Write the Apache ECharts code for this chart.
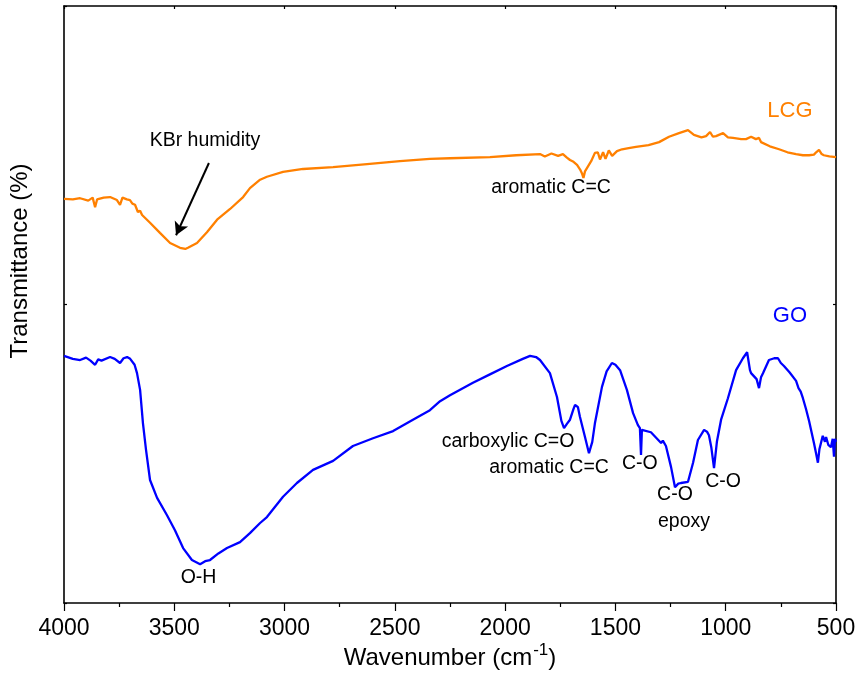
<!DOCTYPE html>
<html>
<head>
<meta charset="utf-8">
<script src="https://cdn.jsdelivr.net/npm/echarts@6/dist/echarts.min.js"></script>
<style>
  html, body { margin: 0; padding: 0; background: #fff; }
  #chart { width: 860px; height: 681px; }
</style>
</head>
<body>
<div id="chart"></div>
<script>
// FTIR spectra: LCG and GO (transmittance in arbitrary offset units)
const lcgWavenumber = [4000,3960,3927,3890,3870,3859,3850,3820,3791,3760,3746,3735,3715,3701,3690,3678,3665,3655,3646,3610,3565,3519,3474,3450,3438,3397,3352,3306,3247,3188,3157,3111,3080,3007,2916,2780,2626,2477,2341,2250,2069,1950,1842,1820,1790,1760,1738,1720,1706,1690,1674,1660,1652,1645,1638,1629,1610,1593,1580,1570,1556,1545,1530,1515,1493,1470,1440,1407,1398,1350,1302,1257,1212,1171,1144,1110,1089,1071,1058,1044,1012,990,967,930,908,885,863,849,840,831,800,758,720,681,650,622,600,590,577,565,555,530,500];
const lcgTransmittance = [67.7,67.6,67.8,67.4,67.9,66.3,67.6,67.9,68.0,67.5,66.7,67.9,67.6,67.5,66.9,66.7,65.5,65.7,65.0,63.7,62.0,60.3,59.5,59.3,59.5,60.3,62.1,64.2,66.0,68.0,69.5,70.9,71.4,72.2,72.7,73.0,73.5,74.0,74.4,74.5,74.7,75.0,75.2,74.8,75.3,74.9,75.2,74.6,74.2,73.9,73.4,72.6,72.0,71.2,72.3,72.5,74.0,75.4,75.5,74.3,75.5,74.4,75.8,74.9,75.7,76.0,76.2,76.4,76.5,76.7,77.2,78.1,78.7,79.2,78.4,78.0,78.2,78.9,78.1,78.2,78.7,78.0,77.9,77.7,77.7,78.1,77.7,77.9,77.2,77.1,76.5,76.0,75.5,75.2,75.0,75.0,75.1,75.5,75.9,75.2,75.0,74.8,74.7];

const goWavenumber = [4000,3960,3927,3900,3880,3859,3845,3830,3791,3770,3746,3730,3714,3700,3692,3680,3669,3655,3642,3628,3610,3578,3533,3497,3460,3420,3383,3360,3338,3300,3261,3202,3157,3111,3080,3007,2944,2871,2780,2690,2599,2508,2418,2341,2295,2250,2146,2069,1992,1920,1887,1860,1842,1797,1765,1745,1733,1720,1706,1690,1683,1670,1661,1638,1620,1605,1593,1561,1540,1516,1500,1479,1448,1420,1398,1389,1384,1380,1375,1339,1293,1285,1271,1248,1230,1215,1203,1171,1148,1126,1098,1085,1076,1065,1053,1040,1021,990,953,922,903,890,885,860,854,849,840,831,804,780,763,750,736,710,681,670,660,650,636,622,600,590,582,575,568,560,550,545,535,523,515,509,505,500];
const goTransmittance = [41.4,40.9,40.7,41.1,40.6,39.9,40.8,40.6,41.2,40.9,40.2,41.0,41.2,40.9,40.7,39.9,38.5,35.7,30.1,25.6,20.6,17.6,14.7,12.2,9.2,7.2,6.5,7.0,7.2,8.3,9.2,10.2,11.7,13.4,14.4,17.8,20.1,22.3,23.8,26.3,27.6,28.8,30.7,32.3,33.8,34.8,36.9,38.3,39.7,40.9,41.4,41.2,40.7,38.5,34.5,30.5,29.3,30.0,30.7,32.5,33.2,32.8,31.2,27.8,25.1,27.0,30.1,36.2,38.8,40.2,39.9,39.0,35.7,31.8,29.8,29.3,24.8,29.0,29.0,28.6,26.8,27.2,26.3,22.8,19.4,20.0,20.1,20.3,23.5,27.3,29.0,28.7,28.1,26.0,22.6,27.0,30.7,34.3,39.0,41.0,42.0,39.0,38.5,37.5,37.2,36.0,37.8,38.5,40.7,41.0,41.0,40.2,39.7,38.6,37.2,36.0,35.4,34.3,32.5,30.5,26.8,25.0,23.5,25.8,26.1,28.0,27.0,27.8,26.5,26.1,27.5,24.5,27.5,27.0];

// Band assignments: [wavenumber, transmittance, text]
const bandLabels = [
  [3361, 77.4, 'KBr humidity'],
  [1792, 69.6, 'aromatic C=C'],
  [3390, 4.2, 'O-H'],
  [1987, 27.0, 'carboxylic C=O'],
  [1801, 22.6, 'aromatic C=C'],
  [1389, 23.3, 'C-O'],
  [1230, 18.1, 'C-O'],
  [1189, 13.7, 'epoxy'],
  [1012, 20.4, 'C-O']
];
// Sample names placed next to their spectra
const sampleLabels = [
  [709, 82.5, 'LCG', '#ff8000'],
  [709, 48.1, 'GO', '#0000ff']
];
// Arrow pointing at the KBr water band: [start, end]
const humidityArrow = [[3343, 73.7], [3492, 61.6]];

const FONT = 'Arial, "Liberation Sans", sans-serif';
const zip = (xs, ys) => xs.map((x, i) => [x, ys[i]]);

const chart = echarts.init(document.getElementById('chart'), null, { renderer: 'canvas' });

const baseX = {
  type: 'value', inverse: true, min: 500, max: 4000, interval: 500,
  splitLine: { show: false },
  axisLine: { show: true, onZero: false, lineStyle: { color: '#000', width: 1.6 } }
};
const baseY = {
  type: 'value', min: 0, max: 100, interval: 50,
  splitLine: { show: false },
  axisLabel: { show: false },
  axisTick: { show: true, inside: true, length: 3, lineStyle: { color: '#000', width: 1.2 } },
  axisLine: { show: true, onZero: false, lineStyle: { color: '#000', width: 1.6 } }
};

const textLabel = {
  show: true, position: 'inside', formatter: p => p.name,
  fontFamily: FONT, opacity: 1, textBorderWidth: 0
};

chart.setOption({
  animation: false,
  backgroundColor: '#fff',
  grid: { left: 64, right: 24, top: 6, bottom: 78, containLabel: false },
  xAxis: [
    Object.assign({}, baseX, {
      position: 'bottom',
      axisTick: { show: true, inside: false, length: 8, lineStyle: { color: '#000', width: 1.2 } },
      minorTick: { show: true, splitNumber: 2, length: 4, lineStyle: { color: '#000', width: 1.2 } },
      axisLabel: {
        show: true, color: '#000', fontSize: 23, fontFamily: FONT, margin: 14,
        formatter: v => String(v)
      }
    }),
    Object.assign({}, baseX, {
      position: 'top',
      axisTick: { show: true, inside: true, length: 3, lineStyle: { color: '#000', width: 1.2 } },
      axisLabel: { show: false }
    })
  ],
  yAxis: [
    Object.assign({}, baseY, { position: 'left' }),
    Object.assign({}, baseY, { position: 'right' })
  ],
  series: [
    {
      name: 'LCG', type: 'line', xAxisIndex: 0, yAxisIndex: 0,
      data: zip(lcgWavenumber, lcgTransmittance),
      showSymbol: false, symbol: 'none',
      lineStyle: { color: '#ff8000', width: 2.3 },
      markLine: {
        silent: true, symbol: ['none', 'arrow'], symbolSize: [11, 13],
        label: { show: false },
        lineStyle: { color: '#000', width: 2, type: 'solid' },
        data: [[{ coord: humidityArrow[0] }, { coord: humidityArrow[1] }]]
      }
    },
    {
      name: 'GO', type: 'line', xAxisIndex: 0, yAxisIndex: 0,
      data: zip(goWavenumber, goTransmittance),
      showSymbol: false, symbol: 'none',
      lineStyle: { color: '#0000ff', width: 2.3 }
    },
    {
      name: 'bands', type: 'scatter', xAxisIndex: 0, yAxisIndex: 0,
      symbolSize: 0, silent: true, itemStyle: { opacity: 1 },
      data: bandLabels.map(d => ({ value: [d[0], d[1]], name: d[2] })),
      label: Object.assign({}, textLabel, { color: '#000', fontSize: 19.5 })
    },
    {
      name: 'samples', type: 'scatter', xAxisIndex: 0, yAxisIndex: 0,
      symbolSize: 0, silent: true, itemStyle: { opacity: 1 },
      data: sampleLabels.map(d => ({
        value: [d[0], d[1]], name: d[2],
        label: { color: d[3] }
      })),
      label: Object.assign({}, textLabel, { fontSize: 22 })
    }
  ],
  graphic: [
    {
      type: 'text', x: 20, y: 261, rotation: Math.PI / 2,
      style: {
        text: 'Transmittance (%)', fill: '#000',
        font: '24px ' + FONT, textAlign: 'center', textVerticalAlign: 'middle'
      }
    },
    {
      type: 'text', x: 450, y: 658,
      style: {
        text: 'Wavenumber (cm{sup|-1}{b|)}', fill: '#000',
        font: '24px ' + FONT, textAlign: 'center', textVerticalAlign: 'middle',
        rich: {
          sup: { fontSize: 17, fontFamily: FONT, padding: [0, 0, 16, 1], fill: '#000' },
          b: { fontSize: 24, fontFamily: FONT, fill: '#000' }
        }
      }
    }
  ]
});
</script>
</body>
</html>
